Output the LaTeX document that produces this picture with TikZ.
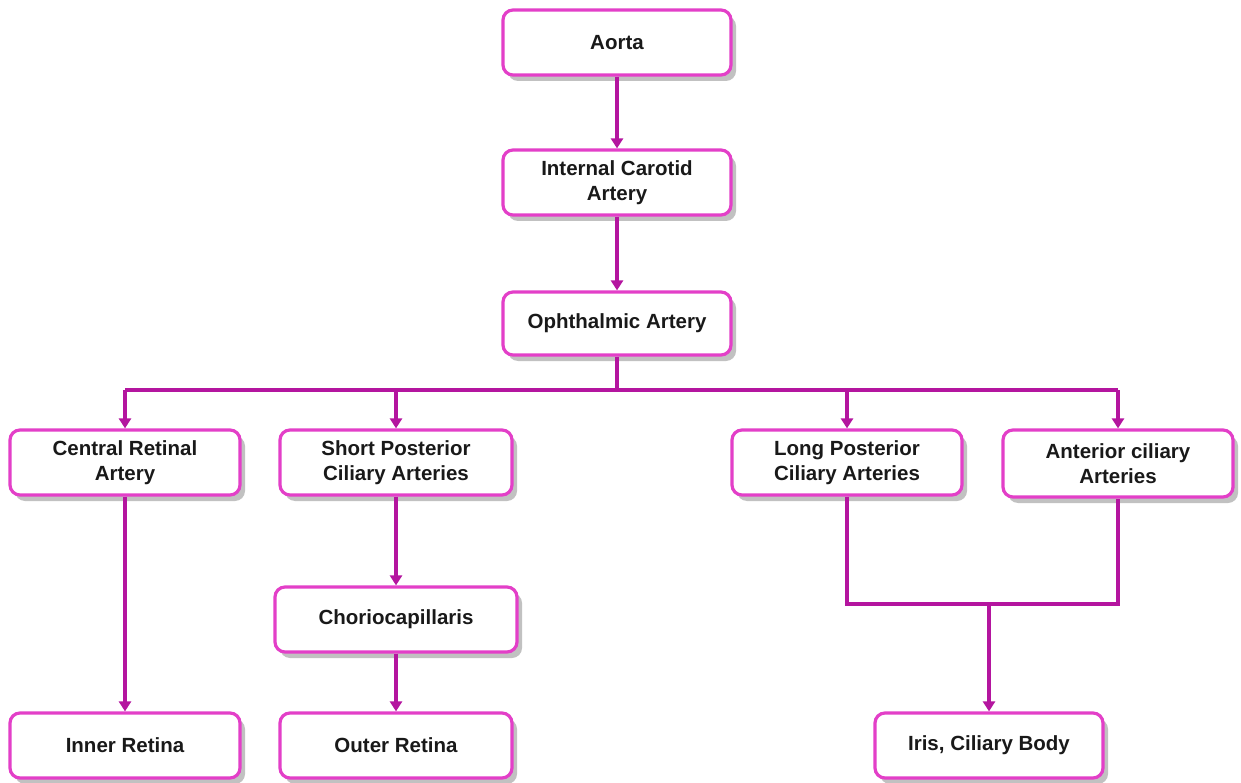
\documentclass[tikz,border=0pt]{standalone}
\usepackage{fontspec}
\setmainfont{Liberation Sans}
\usetikzlibrary{shadows,arrows.meta}
\definecolor{boxline}{HTML}{E33FC8}
\definecolor{conn}{HTML}{B4159F}
\tikzset{
  box/.style={draw=boxline, line width=3.2pt, fill=white, rounded corners=10pt,
    align=center, font=\fontsize{20.5}{25}\selectfont\bfseries, text=black!90,
    drop shadow={shadow xshift=5pt, shadow yshift=-6pt, opacity=0.4, fill=black!60},
    inner sep=0pt},
  conn/.style={draw=conn, line width=3.4pt},
  arr/.style={conn, -{Triangle[width=12pt,length=10pt]}}
}
\begin{document}
\begin{tikzpicture}[x=1pt,y=-1pt]
\useasboundingbox[fill=white] (0,0) rectangle (1241,783);
\newcommand{\bx}[6]{\node[box, minimum width=#4-#2, minimum height=#5-#3] (#1) at ({(#2+#4)/2},{(#3+#5)/2}) {#6};}
\bx{aorta}{503}{10}{731}{75}{Aorta}
\bx{ica}{503}{150}{731}{215}{Internal Carotid\\Artery}
\bx{oph}{503}{292}{731}{355}{Ophthalmic Artery}
\bx{cra}{10}{430}{240}{495}{Central Retinal\\Artery}
\bx{spc}{280}{430}{512}{495}{Short Posterior\\Ciliary Arteries}
\bx{lpc}{732}{430}{962}{495}{Long Posterior\\Ciliary Arteries}
\bx{aca}{1003}{430}{1233}{497}{Anterior ciliary\\Arteries}
\bx{cc}{275}{587}{517}{652}{Choriocapillaris}
\bx{inr}{10}{713}{240}{778}{Inner Retina}
\bx{otr}{280}{713}{512}{778}{Outer Retina}
\bx{iris}{875}{713}{1103}{778}{Iris, Ciliary Body}
\coordinate (br) at (617,390);
\coordinate (mg) at (989,604);
\draw[arr] (aorta) -- (ica);
\draw[arr] (ica) -- (oph);
\draw[conn] (oph) -- (br);
\draw[conn] (125,390) -- (1118,390);
\draw[arr] (125,390) -- (cra);
\draw[arr] (396,390) -- (spc);
\draw[arr] (847,390) -- (lpc);
\draw[arr] (1118,390) -- (aca);
\draw[arr] (cra) -- (inr);
\draw[arr] (spc) -- (cc);
\draw[arr] (cc) -- (otr);
\draw[conn] (lpc.south) |- (mg) -| (aca.south);
\draw[arr] (mg) -- (iris);
\end{tikzpicture}
\end{document}
